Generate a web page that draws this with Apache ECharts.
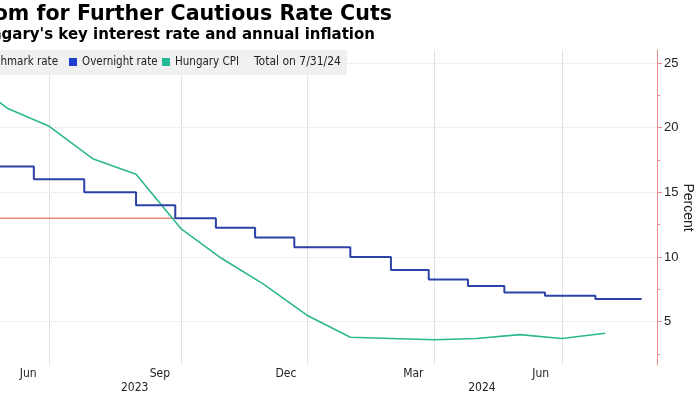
<!DOCTYPE html>
<html><head><meta charset="utf-8">
<script src="https://cdn.jsdelivr.net/npm/echarts@6/dist/echarts.min.js"></script>
<style>html,body{margin:0;padding:0;background:#fff}#c{width:700px;height:394px}</style>
</head><body><div id="c"></div>
<script>
const titleText = 'Hungary Has Room for Further Cautious Rate Cuts';
const subtitleText = "Hungary's key interest rate and annual inflation";
const totalText = 'Total on 7/31/24';

const benchmarkDates = ['2023-04-28', '2023-09-28'];
const benchmarkValues = [13, 13];

const overnightDates = ['2023-04-28','2023-06-19','2023-07-25','2023-08-31','2023-09-28','2023-10-27','2023-11-24','2023-12-22','2024-01-31','2024-02-29','2024-03-27','2024-04-24','2024-05-20','2024-06-18','2024-07-24','2024-08-26'];
const overnightValues = [17, 16, 15, 14, 13, 12.25, 11.5, 10.75, 10, 9, 8.25, 7.75, 7.25, 7, 6.75, 6.75];

const cpiDates = ['2023-04-30','2023-05-31','2023-06-30','2023-07-31','2023-08-31','2023-10-02','2023-10-31','2023-11-30','2023-12-31','2024-01-31','2024-02-29','2024-03-31','2024-04-30','2024-05-31','2024-06-30','2024-07-31'];
const cpiValues = [24.0, 21.5, 20.1, 17.6, 16.4, 12.2, 9.9, 7.9, 5.5, 3.8, 3.7, 3.6, 3.7, 4.0, 3.7, 4.1];

const monthGridDates = ['2023-06-30','2023-10-02','2023-12-31','2024-03-31','2024-06-30'];
const monthLabelDates = ['2023-06-15','2023-09-17','2023-12-16','2024-03-16','2024-06-15'];
const monthLabels = ['Jun','Sep','Dec','Mar','Jun'];
const yearLabelDates = ['2023-08-30','2024-05-04'];
const yearLabels = ['2023','2024'];
const yTicks = [5, 10, 15, 20, 25];

const xStart = '2023-04-28', xEnd = '2024-09-06';
const yMin = 1.65, yMax = 26;

const ts = s => { const p = s.split('-').map(Number); return Date.UTC(p[0], p[1] - 1, p[2]) / 86400000; };
const pair = (ds, vs) => ds.map((d, i) => [ts(d), vs[i]]);
const lookup = (v, ds, ls) => { for (let i = 0; i < ds.length; i++) { if (Math.abs(ts(ds[i]) - v) < 0.5) return ls[i]; } return ''; };

const FONT = "'DejaVu Sans Condensed','Liberation Sans',sans-serif";
const TFONT = "'DejaVu Sans','Liberation Sans',sans-serif";
const LFONT = "'Liberation Sans',Arial,sans-serif";
const RED = '#e8877f', AXISRED = '#e98a8a', BLUE = '#2c42a6', BLUEICON = '#1e40cf', GREEN = '#2db791', GREENICON = '#22bb93';
const GRID = '#e2e2e2';

const chart = echarts.init(document.getElementById('c'), null, { renderer: 'canvas' });
const legendCommon = { orient: 'horizontal', top: 56, padding: 0, itemWidth: 8, itemHeight: 8, icon: 'rect', selectedMode: false, z: 5,
  textStyle: { fontSize: 11.5, color: '#222', fontFamily: FONT } };

chart.setOption({
  animation: false,
  backgroundColor: '#fff',
  title: [
    { text: titleText, right: 308, top: 4, padding: 0, textStyle: { fontSize: 20.6, fontWeight: 'bold', color: '#000', fontFamily: TFONT } },
    { text: subtitleText, right: 325, top: 28, padding: 0, textStyle: { fontSize: 15, fontWeight: 'bold', color: '#000', fontFamily: TFONT } }
  ],
  legend: [
    Object.assign({}, legendCommon, { data: ['Benchmark rate'], right: 642 }),
    Object.assign({}, legendCommon, { data: ['Overnight rate'], left: 69 }),
    Object.assign({}, legendCommon, { data: ['Hungary CPI'], left: 162 })
  ],
  graphic: [
    { type: 'rect', left: 0, top: 50, z: 1, shape: { width: 347, height: 25 }, style: { fill: '#f0f0f0' } },
    { type: 'text', left: 254, top: 56, z: 5, style: { text: totalText, fontSize: 12, fill: '#222', fontFamily: FONT } }
  ],
  grid: { left: -39, right: 43, top: 50, bottom: 29, outerBoundsMode: 'none', containLabel: false },
  xAxis: [
    { type: 'value', min: ts(xStart), max: ts(xEnd),
      axisLine: { show: false }, axisTick: { show: false, customValues: monthGridDates.map(ts) },
      splitLine: { show: true, lineStyle: { color: GRID, width: 1 } },
      axisLabel: { customValues: monthLabelDates.map(ts), formatter: v => lookup(v, monthLabelDates, monthLabels),
        margin: 3, fontSize: 12, color: '#222', fontFamily: FONT, hideOverlap: false } },
    { type: 'value', min: ts(xStart), max: ts(xEnd), position: 'bottom', offset: 14,
      axisLine: { show: false }, axisTick: { show: false }, splitLine: { show: false },
      axisLabel: { customValues: yearLabelDates.map(ts), formatter: v => lookup(v, yearLabelDates, yearLabels),
        margin: 3, fontSize: 12, color: '#222', fontFamily: FONT, hideOverlap: false } }
  ],
  yAxis: {
    type: 'value', position: 'right', min: yMin, max: yMax,
    axisLine: { show: true, lineStyle: { color: AXISRED, width: 1 } },
    axisTick: { show: true, length: 5, customValues: yTicks, lineStyle: { color: AXISRED } },
    minorTick: { show: true, splitNumber: 2, length: 3, lineStyle: { color: AXISRED } },
    axisLabel: { customValues: yTicks, margin: 7, fontSize: 13, color: '#222', fontFamily: LFONT },
    splitLine: { show: true, lineStyle: { color: GRID, type: 'dotted', width: 1 } },
    name: 'Percent', nameLocation: 'middle', nameRotate: -90, nameGap: 24, nameMoveOverlap: false,
    nameTextStyle: { fontSize: 14, color: '#222', fontFamily: LFONT }
  },
  series: [
    { name: 'Benchmark rate', type: 'line', data: pair(benchmarkDates, benchmarkValues), symbol: 'none', z: 2,
      lineStyle: { color: RED, width: 1.5 }, itemStyle: { color: RED } },
    { name: 'Overnight rate', type: 'line', step: 'end', data: pair(overnightDates, overnightValues), symbol: 'none', z: 4,
      lineStyle: { color: BLUE, width: 2 }, itemStyle: { color: BLUEICON } },
    { name: 'Hungary CPI', type: 'line', data: pair(cpiDates, cpiValues), symbol: 'none', z: 3,
      lineStyle: { color: GREEN, width: 1.6 }, itemStyle: { color: GREENICON } }
  ]
});
</script></body></html>
